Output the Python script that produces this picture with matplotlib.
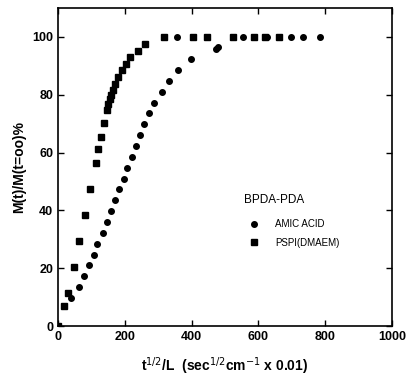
import matplotlib
matplotlib.use('Agg')
import matplotlib.pyplot as plt

plt.rcParams['font.family'] = ['Liberation Sans', 'DejaVu Sans']

# PSPI(DMAEM) - squares
pspi_x = [0, 18, 30, 48, 64, 81, 97, 113, 119, 129, 138, 146, 151, 156, 160, 165,
          170, 180, 191, 203, 217, 241, 262, 316, 403, 445, 524, 588, 621, 662]
pspi_y = [0, 6.9, 11.5, 20.3, 29.4, 38.5, 47.5, 56.5, 61.2, 65.5, 70.2, 74.9, 76.7,
          78.4, 79.9, 81.7, 83.6, 86.3, 88.5, 90.7, 93.0, 95.3, 97.5, 100, 100, 100,
          100, 100, 100, 100]

# AMIC ACID - circles
amic_x = [0, 40, 62, 77, 92, 107, 118, 134, 147, 159, 171, 184, 197, 208, 222, 235,
          247, 259, 272, 287, 311, 331, 358, 397, 473, 480, 356, 553, 621, 627, 697,
          733, 785]
amic_y = [0, 9.8, 13.6, 17.3, 21.1, 24.7, 28.5, 32.3, 36.1, 39.8, 43.6, 47.3, 50.9,
          54.8, 58.6, 62.3, 66.1, 69.8, 73.6, 77.3, 81.1, 84.9, 88.6, 92.3, 96.0, 96.5,
          100, 100, 100, 100, 100, 100, 100]

fig = plt.figure(figsize=(4.08, 3.84), dpi=100)
ax = fig.add_axes([0.142, 0.151, 0.819, 0.828])

ax.plot(amic_x, amic_y, 'o', color='black', markersize=4, label='AMIC ACID')
ax.plot(pspi_x, pspi_y, 's', color='black', markersize=4.5, label='PSPI(DMAEM)')

ax.set_xlim(0, 1000)
ax.set_ylim(0, 110)
ax.set_xticks(range(0, 1001, 200))
ax.set_yticks(range(0, 101, 20))
ax.tick_params(direction='in', top=True, right=True, labelsize=9, length=4, width=1)
for lbl in ax.get_xticklabels() + ax.get_yticklabels():
    lbl.set_fontweight('bold')
for s in ax.spines.values():
    s.set_linewidth(1.2)

ax.set_xlabel(r't$^{1/2}$/L  (sec$^{1/2}$cm$^{-1}$ x 0.01)',
              fontsize=10, fontweight='bold', labelpad=9)
ax.set_ylabel('M(t)/M(t=oo)%', fontsize=10, fontweight='bold', labelpad=4)

leg = ax.legend(loc='center left', bbox_to_anchor=(0.53, 0.33), frameon=False,
                title='BPDA-PDA', fontsize=7, title_fontsize=8.5, handletextpad=1.2,
                labelspacing=0.9, alignment='left')
leg._legend_box.sep = 9

fig.savefig('out.png', dpi=100)
